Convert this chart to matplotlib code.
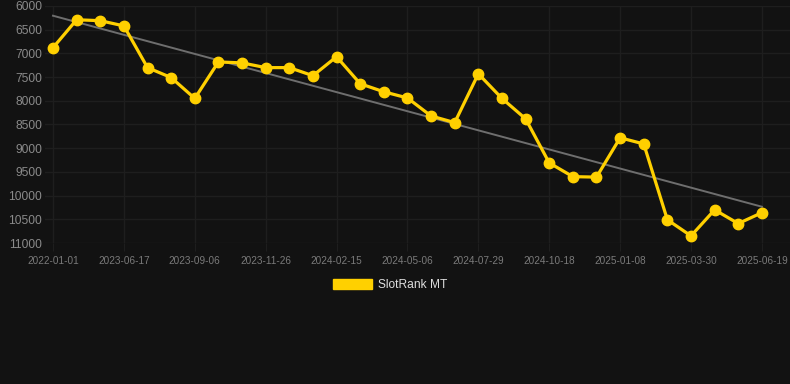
import matplotlib
matplotlib.use("Agg")
import matplotlib.pyplot as plt
from matplotlib.patches import Patch

plt.rcParams['font.family'] = ['Liberation Sans', 'DejaVu Sans']

tick_labels = ["2022-01-01", "2023-06-17", "2023-09-06", "2023-11-26", "2024-02-15",
               "2024-05-06", "2024-07-29", "2024-10-18", "2025-01-08", "2025-03-30",
               "2025-06-19"]
ranks = [6880, 6290, 6310, 6420, 7300, 7510, 7950, 7180, 7200, 7300,
         7300, 7470, 7070, 7640, 7810, 7940, 8320, 8460, 7430, 7950,
         8380, 9310, 9600, 9610, 8780, 8910, 10510, 10850, 10300, 10590,
         10360]
trend_start = 6205
trend_end = 10235
series_name = "SlotRank MT"

bg = '#121212'
fig = plt.figure(figsize=(7.9, 3.84), dpi=100, facecolor=bg)
ax = fig.add_axes([45/790, 1-243/384, 745/790, 237/384], facecolor=bg)

n = len(ranks)
x = list(range(n))
tick_pos = x[::3]

ax.set_xlim(-8/23.63, (790-53)/23.63)
ax.set_ylim(11000, 6000)
ax.set_yticks(range(6000, 11001, 500))
ax.set_xticks(tick_pos)
ax.set_xticklabels(tick_labels)

ax.grid(True, color='#1e1e1e', linewidth=1)
ax.set_axisbelow(True)
for s in ax.spines.values():
    s.set_visible(False)
ax.tick_params(axis='y', length=0, pad=2, labelsize=8.64, labelcolor='#8a8a8a')
ax.tick_params(axis='x', length=6, color='#1e1e1e', pad=3, labelsize=7.2, labelcolor='#7a7a7a')

ax.plot([0, n-1], [trend_start, trend_end], color='#6e6e6e', linewidth=1.4, zorder=2)
ax.plot(x, ranks, color='#ffd000', linewidth=2.3, marker='o', markersize=7.5,
        markerfacecolor='#ffd000', markeredgecolor='#ffd000', zorder=3, clip_on=False)

fig.legend(handles=[Patch(facecolor='#ffd000', edgecolor='#ffd000')], labels=[series_name],
           loc='center', bbox_to_anchor=(390/790, 1-285/384), frameon=False,
           fontsize=8.64, labelcolor='#dddddd', handlelength=3.3, handleheight=0.9,
           handletextpad=0.5)

fig.savefig('out.png', dpi=100, facecolor=bg)
